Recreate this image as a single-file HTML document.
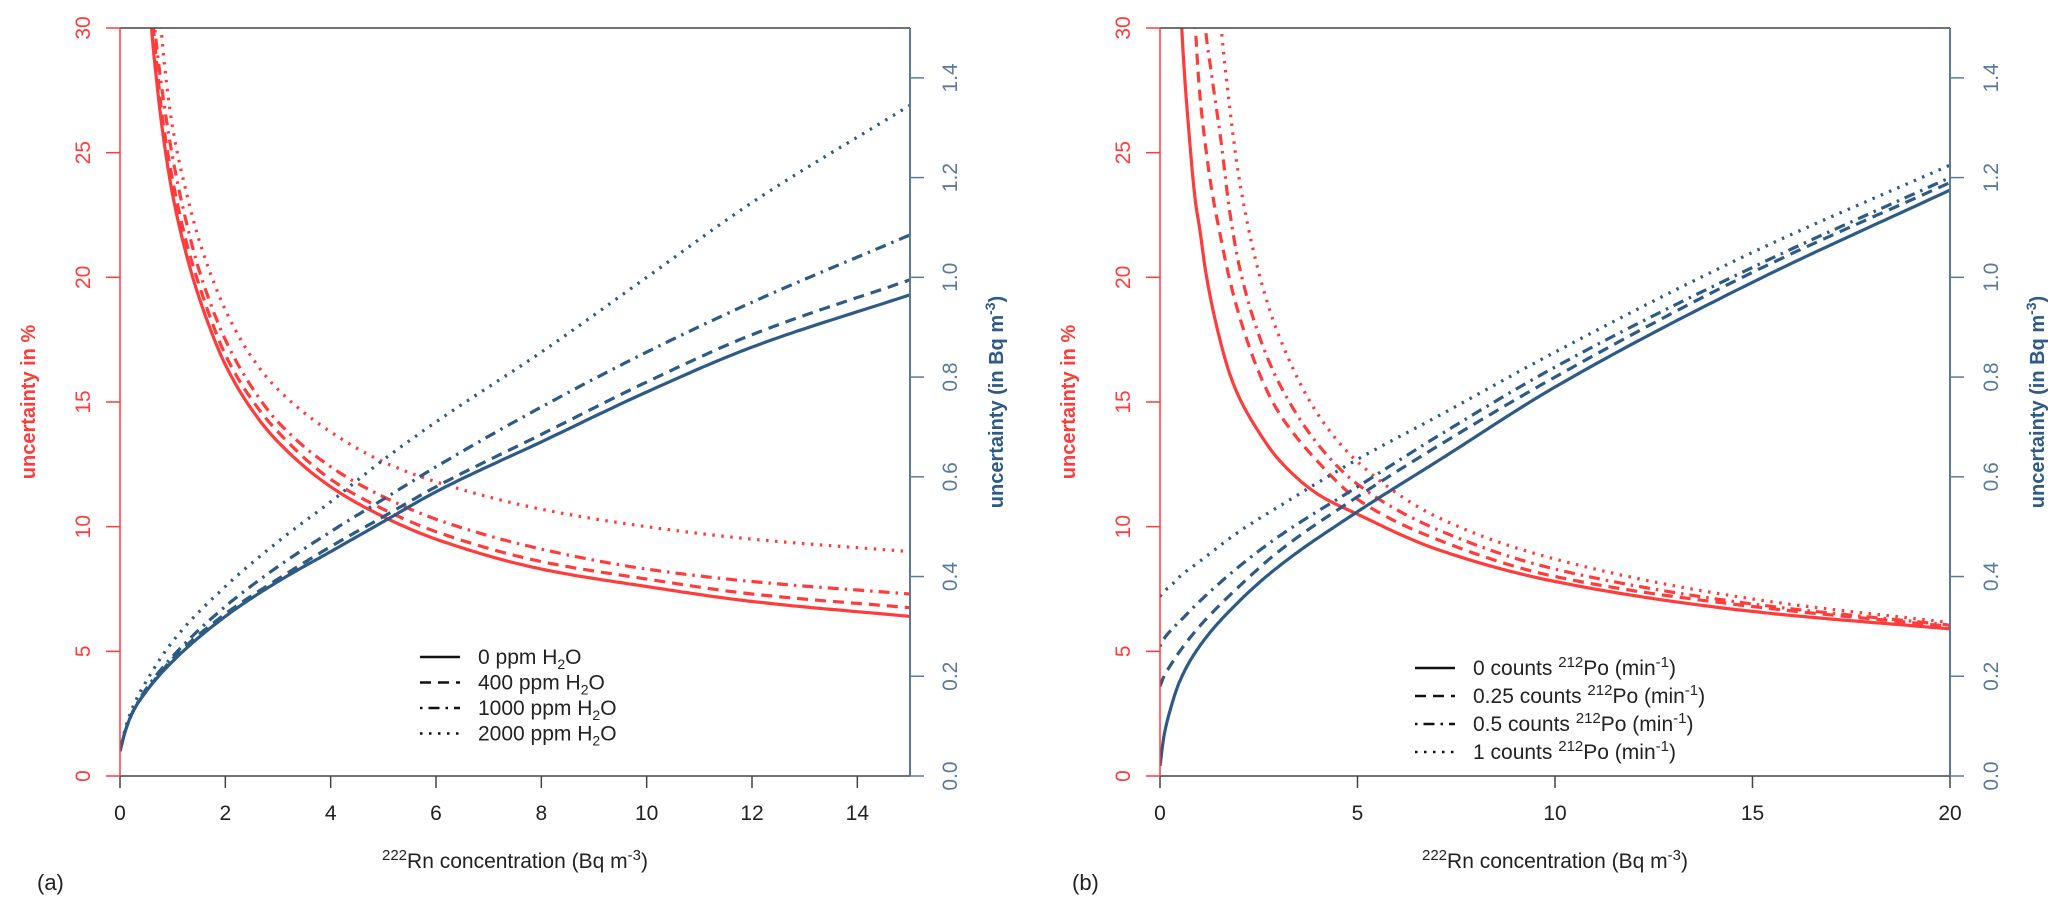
<!DOCTYPE html>
<html><head><meta charset="utf-8"><style>
html,body{margin:0;padding:0;background:#fff;}
svg{display:block;font-family:"Liberation Sans",sans-serif;}
</style></head><body>
<svg id="chart" width="2067" height="911" viewBox="0 0 2067 911" xmlns="http://www.w3.org/2000/svg">
<defs>
<clipPath id="clipA"><rect x="120" y="28" width="790" height="748"/></clipPath>
<clipPath id="clipB"><rect x="1160" y="28" width="790" height="748"/></clipPath>
</defs>
</svg>
<script>
// ---------- Panel (a) data ----------
const aXTicks = [0,2,4,6,8,10,12,14];
const leftTicks = [0,5,10,15,20,25,30];
const rightTicks = [0.0,0.2,0.4,0.6,0.8,1.0,1.2,1.4];
const rightTickLabels = ["0.0","0.2","0.4","0.6","0.8","1.0","1.2","1.4"];
const aLegend = ["0 ppm H", "400 ppm H", "1000 ppm H", "2000 ppm H"];
const aRedX = [0.55,0.6,0.7,0.8,1,1.25,1.5,2,2.5,3,4,5,6,8,10,12,15];
const aRed0    = [32,30,27.8,26,23.3,21,19.2,16.5,14.7,13.4,11.6,10.4,9.5,8.3,7.6,7.0,6.4];
const aRed400  = [33,31,28.5,26.5,23.9,21.5,19.7,16.9,15.1,13.8,11.9,10.7,9.8,8.6,7.9,7.3,6.75];
const aRed1000 = [34,31.5,29.2,27.5,24.8,22.3,20.3,17.5,15.6,14.2,12.4,11.2,10.3,9.1,8.3,7.8,7.3];
const aRed2000 = [38,36,32.5,29.5,26,23.5,21.5,18.7,16.8,15.5,13.8,12.6,11.8,10.7,10.0,9.5,9.0];
const aBlueX = [0,0.1,0.25,0.5,1,2,3,4,5,6,8,10,12,15];
const aBlue0    = [0.05,0.09,0.13,0.17,0.23,0.32,0.39,0.45,0.51,0.57,0.67,0.77,0.86,0.965];
const aBlue400  = [0.05,0.09,0.13,0.17,0.235,0.325,0.395,0.46,0.52,0.58,0.685,0.79,0.885,0.995];
const aBlue1000 = [0.05,0.09,0.13,0.175,0.24,0.34,0.42,0.49,0.555,0.62,0.74,0.85,0.95,1.085];
const aBlue2000 = [0.05,0.095,0.14,0.19,0.27,0.38,0.47,0.55,0.634,0.71,0.85,1.0,1.15,1.345];
// ---------- Panel (b) data ----------
const bXTicks = [0,5,10,15,20];
const bLegend = ["0 counts ", "0.25 counts ", "0.5 counts ", "1 counts "];
const bRedX = [0.45,0.55,0.75,0.9,1,1.15,1.3,1.55,1.75,2,2.5,3,4,5,7,10,15,20];
const bRed0    = [34,30,25.5,23,22,20.3,19.0,17.3,16.2,15.2,13.8,12.7,11.3,10.5,9.1,7.8,6.6,5.9];
const bRed025  = [60,52,37,30,27.5,25.3,23.6,21.5,20,18.5,16.2,14.6,12.6,11.1,9.5,8.0,6.8,6.0];
const bRed05   = [70,62,45,37,34,30,28.2,25.4,22.8,20.5,17.7,15.8,13.3,11.7,9.9,8.3,6.9,6.05];
const bRed1    = [90,80,60,50,46,40,35,30,27,24,20.2,17.7,14.5,12.6,10.4,8.7,7.1,6.15];
const bBlueX = [0,0.1,0.25,0.5,1,2,3,5,7,10,15,20];
const bBlue0    = [0.02,0.08,0.13,0.19,0.26,0.35,0.42,0.53,0.63,0.78,0.99,1.175];
const bBlue025  = [0.18,0.2,0.22,0.25,0.30,0.38,0.45,0.56,0.66,0.80,1.01,1.19];
const bBlue05   = [0.26,0.275,0.29,0.31,0.35,0.42,0.48,0.58,0.68,0.82,1.02,1.20];
const bBlue1    = [0.36,0.37,0.38,0.40,0.43,0.49,0.54,0.635,0.72,0.85,1.05,1.225];

const NS = "http://www.w3.org/2000/svg";
const svg = document.getElementById('chart');
const RED = "#ff3b3b", BLUE = "#2d5b86", BLUEAX = "#5b7a9b";
const TOP = 28, BOT = 776;
const DASH = [null, "11,7", "2.5,6,11,6", "2.5,6.5"];

function mk(tag, attrs, parent){ const e=document.createElementNS(NS,tag); for(const k in attrs) e.setAttribute(k,attrs[k]); (parent||svg).appendChild(e); return e; }
function yL(v){ return BOT - v/30*(BOT-TOP); }
function yR(v){ return BOT - v/1.5*(BOT-TOP); }
// monotone cubic (Fritsch-Carlson) in data space, sampled densely
function pathFrom(xs, ys, xf, yf){
  const n = xs.length, d = [], m = new Array(n);
  for(let i=0;i<n-1;i++) d.push((ys[i+1]-ys[i])/(xs[i+1]-xs[i]));
  m[0]=d[0]; m[n-1]=d[n-2];
  for(let i=1;i<n-1;i++){
    if(d[i-1]*d[i]<=0) m[i]=0;
    else { const h0=xs[i]-xs[i-1], h1=xs[i+1]-xs[i]; const w1=2*h1+h0, w2=h1+2*h0; m[i]=(w1+w2)/(w1/d[i-1]+w2/d[i]); }
  }
  let path = "M"+xf(xs[0]).toFixed(1)+","+yf(ys[0]).toFixed(1);
  for(let i=0;i<n-1;i++){
    const h = xs[i+1]-xs[i];
    for(let k=1;k<=24;k++){
      const t=k/24, t2=t*t, t3=t2*t;
      const y = (2*t3-3*t2+1)*ys[i] + (t3-2*t2+t)*h*m[i] + (-2*t3+3*t2)*ys[i+1] + (t3-t2)*h*m[i+1];
      const x = xs[i]+t*h;
      path += " L"+xf(x).toFixed(1)+","+yf(y).toFixed(1);
    }
  }
  return path;
}
function txt(x,y,s,attrs){ const t=mk('text',Object.assign({x:x,y:y},attrs||{})); t.textContent=s; return t; }

function panel(cfg){
  const {x0,x1,xmax,xTicks,clip,leftLblX,leftTitleX,rightLblX,rightTitleX,tag,tagX,legendX,legendY,legendStep,legend,legendKind,reds,blues,redX,blueX} = cfg;
  const xs = v => x0 + v/xmax*(x1-x0);
  const g = mk('g',{});
  
  
  const cg = mk('g',{'clip-path':'url(#'+clip+')'},g);
  reds.forEach((arr,i)=>{
    const p = mk('path',{d:pathFrom(redX,arr,xs,yL),fill:'none',stroke:RED,'stroke-width':3.2},cg);
    if(DASH[i]) p.setAttribute('stroke-dasharray',DASH[i]);
    
    
  });
  blues.forEach((arr,i)=>{
    const p = mk('path',{d:pathFrom(blueX,arr,xs,yR),fill:'none',stroke:BLUE,'stroke-width':3.2},cg);
    if(DASH[i]) p.setAttribute('stroke-dasharray',DASH[i]);
    
    
  });
  mk('line',{x1:x0,y1:TOP,x2:x1,y2:TOP,stroke:'#444','stroke-width':1.5},g);
  mk('line',{x1:x0,y1:BOT,x2:x1,y2:BOT,stroke:'#444','stroke-width':1.5},g);
  const la = mk('line',{x1:x0,y1:TOP,x2:x0,y2:BOT,stroke:RED,'stroke-width':1.5},g);
  
  
  const ra = mk('line',{x1:x1,y1:TOP,x2:x1,y2:BOT,stroke:BLUEAX,'stroke-width':2},g);
  
  
  xTicks.forEach(v=>{
    mk('line',{x1:xs(v),y1:BOT,x2:xs(v),y2:BOT+12,stroke:'#444','stroke-width':1.5},g);
    const t = txt(xs(v),820,String(v),{'font-size':21,'text-anchor':'middle',fill:'#222'});
    
    
  });
  leftTicks.forEach(v=>{
    mk('line',{x1:x0,y1:yL(v),x2:x0-14,y2:yL(v),stroke:RED,'stroke-width':1.5},g);
    const t = txt(0,0,String(v),{'font-size':21,'text-anchor':'middle',fill:RED,transform:'translate('+leftLblX+','+yL(v)+') rotate(-90)'});
    
    
  });
  rightTicks.forEach((v,i)=>{
    mk('line',{x1:x1,y1:yR(v),x2:x1+14,y2:yR(v),stroke:BLUEAX,'stroke-width':1.5},g);
    const t = txt(0,0,rightTickLabels[i],{'font-size':21,'text-anchor':'middle',fill:BLUEAX,transform:'translate('+rightLblX+','+yR(v)+') rotate(-90)'});
    
    
  });
  const lt = txt(0,0,'uncertainty in %',{'font-size':20,'font-weight':'bold','text-anchor':'middle',fill:RED,transform:'translate('+leftTitleX+',402) rotate(-90)'});
  
  
  const rt = mk('text',{'font-size':20,'font-weight':'bold','text-anchor':'middle',fill:BLUE,transform:'translate('+rightTitleX+',402) rotate(-90)'},g);
  rt.innerHTML = 'uncertainty (in Bq m<tspan dy="-8" font-size="14">-3</tspan><tspan dy="8">)</tspan>';
  
  
  const xt = mk('text',{x:(x0+x1)/2,y:868,'font-size':21,'text-anchor':'middle',fill:'#222'},g);
  xt.innerHTML = '<tspan dy="-8" font-size="15">222</tspan><tspan dy="8">Rn concentration (Bq m</tspan><tspan dy="-8" font-size="15">-3</tspan><tspan dy="8">)</tspan>';
  
  
  const tg = txt(tagX,890,'('+tag+')',{'font-size':22,fill:'#222'});
  
  
  legend.forEach((s,i)=>{
    const y = legendY + i*legendStep;
    const l = mk('line',{x1:legendX,y1:y,x2:legendX+40,y2:y,stroke:'#111','stroke-width':2.6},g);
    if(DASH[i]) l.setAttribute('stroke-dasharray',DASH[i]);
    
    
    const t = mk('text',{x:legendX+58,y:y+7,'font-size':21,fill:'#222'},g);
    if(legendKind==='h2o') t.innerHTML = s+'<tspan dy="5" font-size="14">2</tspan><tspan dy="-5">O</tspan>';
    else t.innerHTML = s+'<tspan dy="-8" font-size="15">212</tspan><tspan dy="8">Po (min</tspan><tspan dy="-8" font-size="15">-1</tspan><tspan dy="8">)</tspan>';
    
    
  });
}

panel({x0:120,x1:910,xmax:15,xTicks:aXTicks,clip:'clipA',leftLblX:90,leftTitleX:35,rightLblX:957,rightTitleX:1003,tag:'a',tagX:37,
  legendX:420,legendY:657,legendStep:25.5,legend:aLegend,legendKind:'h2o',
  reds:[aRed0,aRed400,aRed1000,aRed2000],blues:[aBlue0,aBlue400,aBlue1000,aBlue2000],redX:aRedX,blueX:aBlueX});
panel({x0:1160,x1:1950,xmax:20,xTicks:bXTicks,clip:'clipB',leftLblX:1130,leftTitleX:1075,rightLblX:1998,rightTitleX:2044,tag:'b',tagX:1072,
  legendX:1415,legendY:668,legendStep:28,legend:bLegend,legendKind:'po',
  reds:[bRed0,bRed025,bRed05,bRed1],blues:[bBlue0,bBlue025,bBlue05,bBlue1],redX:bRedX,blueX:bBlueX});
</script>
</body></html>
